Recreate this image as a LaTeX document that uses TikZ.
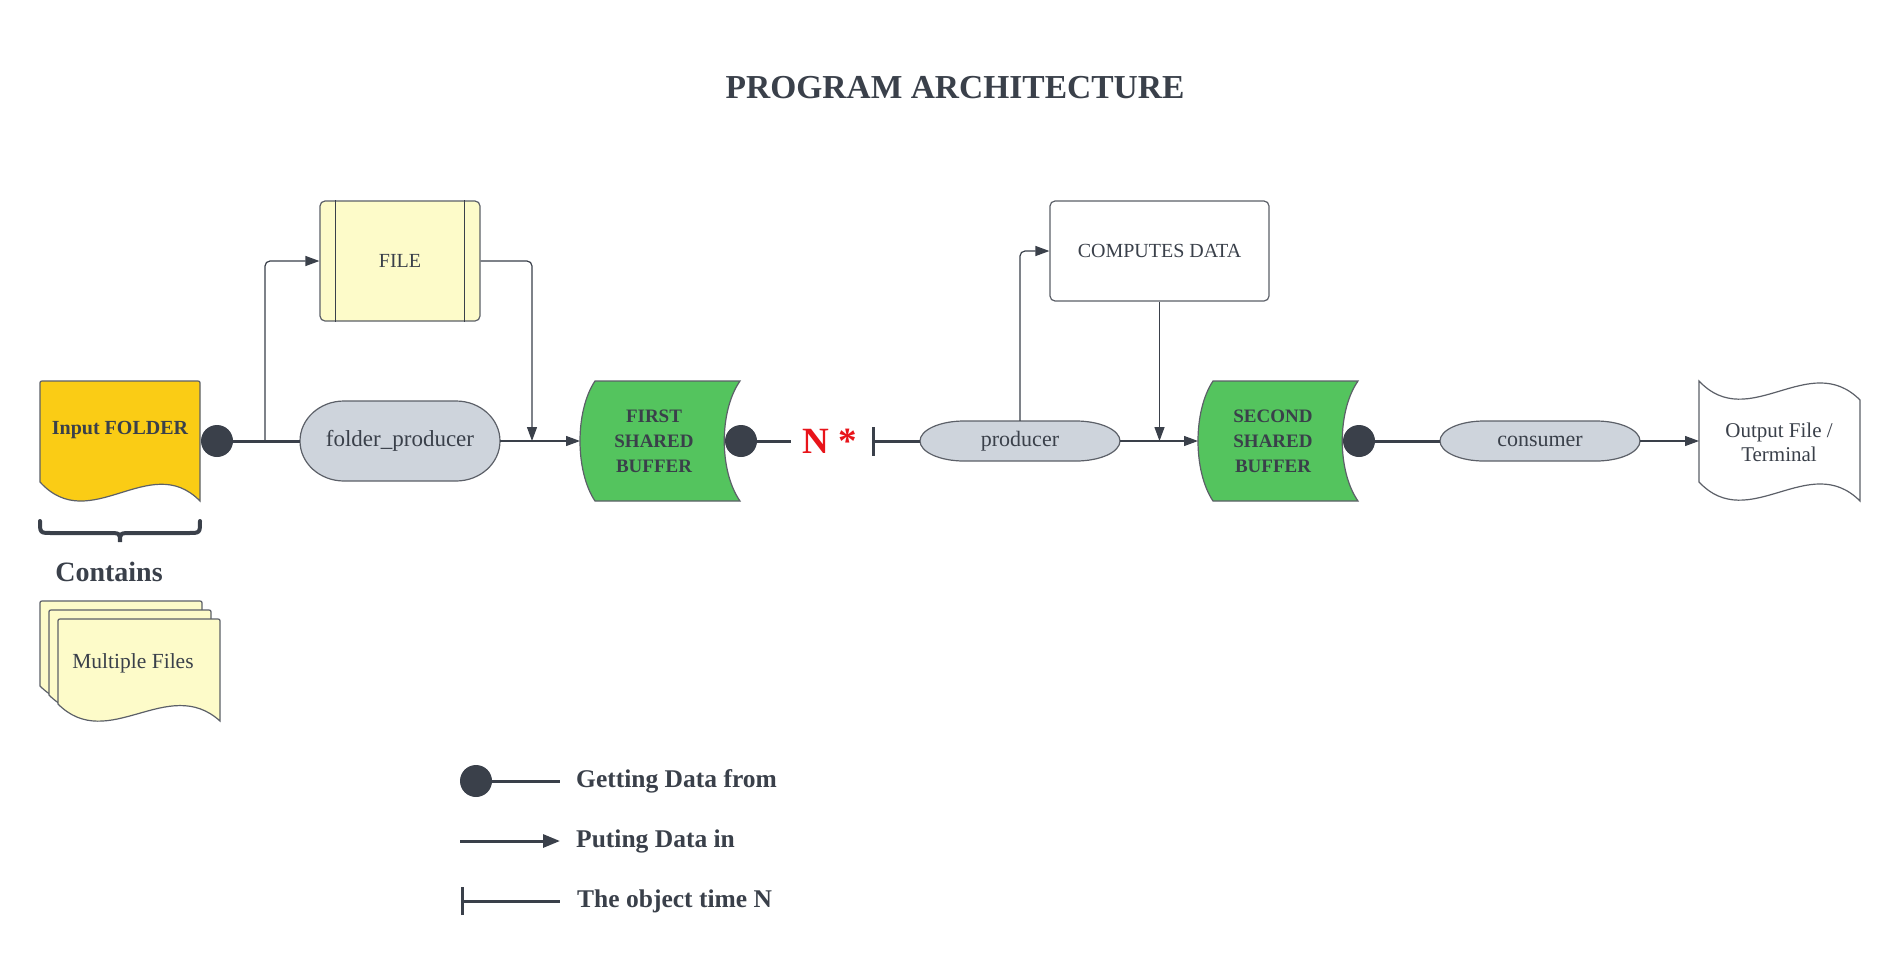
\documentclass[tikz,border=0pt]{standalone}
\usepackage{fontspec}
\setmainfont{Liberation Serif}
\usetikzlibrary{arrows.meta,calc}
\definecolor{ink}{HTML}{3A404A}
\definecolor{edge}{HTML}{5C6068}
\definecolor{gold}{HTML}{FACC15}
\definecolor{cream}{HTML}{FDFBC9}
\definecolor{leaf}{HTML}{54C45E}
\definecolor{mist}{HTML}{CED4DC}
\definecolor{alert}{HTML}{E8141A}
\tikzset{
  txt/.style={text=ink, font=\fontsize{22}{25}\selectfont, inner sep=0pt, align=center},
  btxt/.style={text=ink, font=\fontsize{19}{25}\selectfont\bfseries, inner sep=0pt, align=center},
  ltxt/.style={text=ink, font=\fontsize{25.5}{28}\selectfont\bfseries, inner sep=0pt, anchor=west},
  box/.style={draw=edge, line width=1.2pt, rounded corners=5pt, inner sep=0pt},
  ghost/.style={inner sep=0pt, draw=none},
  gdot/.style={circle, fill=ink, minimum size=32pt, inner sep=0pt},
  arr/.style={draw=ink, line width=1.2pt, -{Triangle[length=14pt,width=10pt]}},
  heavy/.style={draw=ink, line width=3pt},
  shapeline/.style={draw=edge, line width=1.2pt},
}
\newcommand\pillshape[4]{%
  \draw[shapeline, fill=mist] ({#1-#3+44},{#2-#4}) -- ({#1+#3-44},{#2-#4})
   .. controls ({#1+#3-44+0.5523*44},{#2-#4}) and ({#1+#3},{#2-0.5523*#4}) .. ({#1+#3},{#2})
   .. controls ({#1+#3},{#2+0.5523*#4}) and ({#1+#3-44+0.5523*44},{#2+#4}) .. ({#1+#3-44},{#2+#4})
   -- ({#1-#3+44},{#2+#4})
   .. controls ({#1-#3+44-0.5523*44},{#2+#4}) and ({#1-#3},{#2+0.5523*#4}) .. ({#1-#3},{#2})
   .. controls ({#1-#3},{#2-0.5523*#4}) and ({#1-#3+44-0.5523*44},{#2-#4}) .. ({#1-#3+44},{#2-#4}) -- cycle;}
\newcommand\sheetshape[2]{%
  \draw[shapeline, fill=cream] ({#1},{#2+85}) -- ({#1},{#2+4}) .. controls ({#1},{#2}) .. ({#1+4},{#2})
   -- ({#1+158},{#2}) .. controls ({#1+162},{#2}) .. ({#1+162},{#2+4}) -- ({#1+162},{#2+102})
   .. controls ({#1+110},{#2+55}) and ({#1+50},{#2+135}) .. ({#1},{#2+85}) -- cycle;}
\newcommand\buffershape[1]{%
  \draw[shapeline, fill=leaf] ({#1+595},381) -- ({#1+740},381) .. controls ({#1+719},411) and ({#1+719},471) .. ({#1+740},501)
   -- ({#1+595},501) .. controls ({#1+575},471) and ({#1+575},411) .. ({#1+595},381) -- cycle;}
\begin{document}
\begin{tikzpicture}[x=1pt,y=-1pt]
\useasboundingbox (0,0) rectangle (1900,978);
\fill[white] (0,0) rectangle (1900,978);

% title
\node[text=ink, font=\fontsize{33.5}{38}\selectfont\bfseries, inner sep=0pt] (title) at (955,88) {PROGRAM ARCHITECTURE};

% shapes drawn directly
\draw[shapeline, fill=gold] (40,482) -- (40,385) .. controls (40,381) .. (44,381) -- (196,381) .. controls (200,381) .. (200,385)
  -- (200,501) .. controls (150,450) and (90,537) .. (40,482) -- cycle;
\pillshape{400}{441}{100}{40}
\pillshape{1020}{441}{100}{20}
\pillshape{1540}{441}{100}{20}
\buffershape{0}
\buffershape{618}
\draw[shapeline, fill=white] (1699,381) .. controls (1749,434) and (1809,349) .. (1860,400) -- (1860,501)
  .. controls (1809,450) and (1749,535) .. (1699,482) -- cycle;
\sheetshape{40}{601}
\sheetshape{49}{610}
\sheetshape{58}{619}

% brace
\draw[ink, line width=4pt, line cap=round] (40,521) .. controls (40,533) .. (52,533) -- (108,533) .. controls (120,533) .. (120,542)
  .. controls (120,533) .. (132,533) -- (188,533) .. controls (200,533) .. (200,521);

% nodes
\node[ghost, text=ink, font=\fontsize{20}{24}\selectfont\bfseries] (folder) at (120,430) {Input FOLDER};
\node[box, fill=cream, minimum width=160pt, minimum height=120pt, txt, font=\fontsize{20}{24}\selectfont] (file) at (400,261) {FILE};
\draw[ink, line width=1.2pt] ([xshift=16pt]file.north west) -- ([xshift=16pt]file.south west);
\draw[ink, line width=1.2pt] ([xshift=-16pt]file.north east) -- ([xshift=-16pt]file.south east);
\node[ghost, txt, font=\fontsize{23}{25}\selectfont, minimum width=200pt, minimum height=80pt] (fp) at (400,441) {folder\_producer};
\node[btxt] (buf1) at (654,441) {FIRST\\SHARED\\BUFFER};
\node[text=alert, font=\fontsize{37}{40}\selectfont\bfseries, inner sep=0pt] (nst) at (830,441) {N *};
\node[ghost, txt, minimum width=200pt, minimum height=40pt] (prod) at (1020,441) {producer};
\node[box, fill=white, minimum width=219pt, minimum height=100pt, txt, font=\fontsize{20}{24}\selectfont] (comp) at (1159.5,251) {COMPUTES DATA};
\node[btxt] (buf2) at (1273,441) {SECOND\\SHARED\\BUFFER};
\node[ghost, txt, minimum width=200pt, minimum height=40pt] (cons) at (1540,441) {consumer};
\node[txt, font=\fontsize{21}{24}\selectfont] (out) at (1779,442) {Output File /\\Terminal};
\node[text=ink, font=\fontsize{28}{30}\selectfont\bfseries, inner sep=0pt] (cont) at (109,572) {Contains};
\node[txt, font=\fontsize{21.5}{25}\selectfont] (mf) at (133,663) {Multiple Files};

% coordinates
\coordinate (j0) at (265,441);
\coordinate (j1) at (532,441);
\coordinate (buf1w) at (580,441);
\coordinate (nl) at (791,441);
\coordinate (barc) at (872,441);
\coordinate (buf2w) at (1198,441);
\coordinate (outw) at (1699,441);

% dots
\node[gdot] (d1) at (217,441) {};
\node[gdot] (d2) at (741,441) {};
\node[gdot] (d3) at (1359,441) {};

% connectors
\draw[heavy] (d1) -- (fp.west);
\draw[arr, rounded corners=5pt] (j0) |- (file.west);
\draw[arr, rounded corners=5pt] (file.east) -| (j1);
\draw[arr] (fp.east) -- (buf1w);
\draw[heavy] (d2) -- (nl);
\draw[heavy, {Bar[width=29pt]}-] (barc) -- (prod.west);
\draw[arr, rounded corners=5pt] (prod.north) |- (comp.west);
\draw[arr] (comp.south) -- (comp.south |- prod.east);
\draw[arr] (prod.east) -- (buf2w);
\draw[heavy] (d3) -- (cons.west);
\draw[arr] (cons.east) -- (outw);

% legend
\node[gdot] (ld) at (476,781) {};
\coordinate (le1) at (560,781);
\draw[heavy] (ld) -- (le1);
\node[ltxt] (l1) at (576,781) {Getting Data from};
\coordinate (la0) at (460,841);
\coordinate (la1) at (560,841);
\draw[heavy, -{Triangle[length=17pt,width=13pt]}] (la0) -- (la1);
\node[ltxt] (l2) at (576,841) {Puting Data in};
\coordinate (lb0) at (461,901);
\coordinate (lb1) at (560,901);
\draw[heavy, {Bar[width=28pt]}-] (lb0) -- (lb1);
\node[ltxt] (l3) at (577,901) {The object time N};
\end{tikzpicture}
\end{document}
